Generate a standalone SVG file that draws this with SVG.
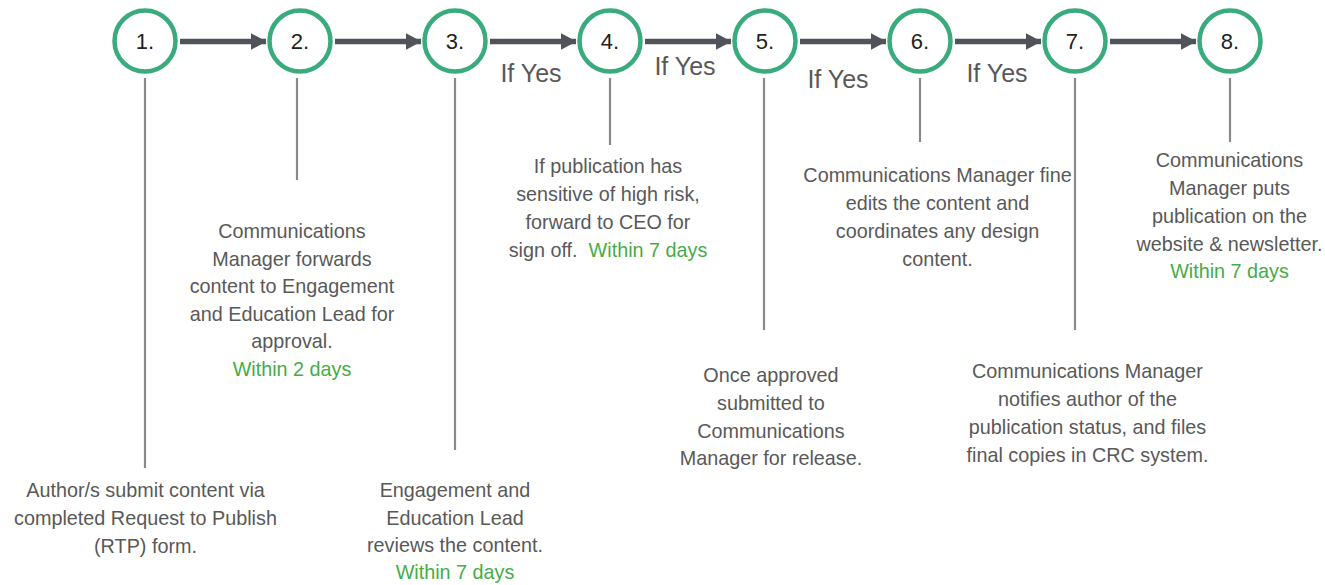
<svg xmlns="http://www.w3.org/2000/svg" width="1325" height="585" viewBox="0 0 1325 585">
<style>
.node circle{fill:#fff;stroke:#3aab7d;stroke-width:4.5}
.num{font-family:"Liberation Sans",Arial,sans-serif;font-size:22px;fill:#222;text-anchor:middle}
.desc{font-family:"Liberation Sans",Arial,sans-serif;font-size:19.8px;fill:#595959;text-anchor:middle;white-space:pre}
.g{fill:#45ad45}
.lbl{font-family:"Liberation Sans",Arial,sans-serif;font-size:25px;fill:#595959;text-anchor:middle}
.arrow{stroke:#50545a;stroke-width:5.5;fill:none;marker-end:url(#ah)}
.stem{stroke:#8a8a8a;stroke-width:2.2;fill:none}
</style>
<defs>
<marker id="ah" markerWidth="16" markerHeight="17" refX="15.5" refY="8.5" orient="auto" markerUnits="userSpaceOnUse">
<path d="M0,0 L16,8.5 L0,17 Z" fill="#50545a"/>
</marker>
</defs>
<rect width="1325" height="585" fill="#fff"/>
<g id="connectors">
<line class="arrow" x1="180" y1="41.5" x2="266" y2="41.5"/>
<line class="arrow" x1="335" y1="41.5" x2="421" y2="41.5"/>
<line class="arrow" x1="490" y1="41.5" x2="576" y2="41.5"/>
<line class="arrow" x1="645" y1="41.5" x2="731" y2="41.5"/>
<line class="arrow" x1="800" y1="41.5" x2="886" y2="41.5"/>
<line class="arrow" x1="955" y1="41.5" x2="1041" y2="41.5"/>
<line class="arrow" x1="1110" y1="41.5" x2="1196" y2="41.5"/>
<line class="stem" x1="145" y1="78" x2="145" y2="468"/>
<line class="stem" x1="297" y1="78" x2="297" y2="180"/>
<line class="stem" x1="455" y1="78" x2="455" y2="450"/>
<line class="stem" x1="610" y1="78" x2="610" y2="145"/>
<line class="stem" x1="764" y1="78" x2="764" y2="330"/>
<line class="stem" x1="920" y1="78" x2="920" y2="142"/>
<line class="stem" x1="1075" y1="78" x2="1075" y2="330"/>
<line class="stem" x1="1230" y1="78" x2="1230" y2="142"/>
<text class="lbl" x="531" y="82">If Yes</text>
<text class="lbl" x="685" y="75">If Yes</text>
<text class="lbl" x="838" y="88">If Yes</text>
<text class="lbl" x="997" y="82">If Yes</text>
</g>
<g id="node1" class="node">
<circle cx="145" cy="41" r="30.5"/>
<text class="num" x="145" y="49">1.</text>
<text class="desc"><tspan x="145.5" y="497">Author/s submit content via</tspan><tspan x="145.5" y="525">completed Request to Publish</tspan><tspan x="145.5" y="553">(RTP) form.</tspan></text>
</g>
<g id="node2" class="node">
<circle cx="300" cy="41" r="30.5"/>
<text class="num" x="300" y="49">2.</text>
<text class="desc"><tspan x="292" y="238">Communications</tspan><tspan x="292" y="265.5">Manager forwards</tspan><tspan x="292" y="293">content to Engagement</tspan><tspan x="292" y="320.5">and Education Lead for</tspan><tspan x="292" y="348">approval.</tspan><tspan class="g" x="292" y="376">Within 2 days</tspan></text>
</g>
<g id="node3" class="node">
<circle cx="455" cy="41" r="30.5"/>
<text class="num" x="455" y="49">3.</text>
<text class="desc"><tspan x="455" y="497">Engagement and</tspan><tspan x="455" y="524.5">Education Lead</tspan><tspan x="455" y="552">reviews the content.</tspan><tspan class="g" x="455" y="579">Within 7 days</tspan></text>
</g>
<g id="node4" class="node">
<circle cx="610" cy="41" r="30.5"/>
<text class="num" x="610" y="49">4.</text>
<text class="desc"><tspan x="608" y="173">If publication has</tspan><tspan x="608" y="201">sensitive of high risk,</tspan><tspan x="608" y="229">forward to CEO for</tspan><tspan x="608" y="256.5">sign off.  <tspan class="g">Within 7 days</tspan></tspan></text>
</g>
<g id="node5" class="node">
<circle cx="765" cy="41" r="30.5"/>
<text class="num" x="765" y="49">5.</text>
<text class="desc"><tspan x="771" y="382">Once approved</tspan><tspan x="771" y="410">submitted to</tspan><tspan x="771" y="437.5">Communications</tspan><tspan x="771" y="465">Manager for release.</tspan></text>
</g>
<g id="node6" class="node">
<circle cx="920" cy="41" r="30.5"/>
<text class="num" x="920" y="49">6.</text>
<text class="desc"><tspan x="937.5" y="182">Communications Manager fine</tspan><tspan x="937.5" y="210">edits the content and</tspan><tspan x="937.5" y="238">coordinates any design</tspan><tspan x="937.5" y="266">content.</tspan></text>
</g>
<g id="node7" class="node">
<circle cx="1075" cy="41" r="30.5"/>
<text class="num" x="1075" y="49">7.</text>
<text class="desc"><tspan x="1087.5" y="378">Communications Manager</tspan><tspan x="1087.5" y="406">notifies author of the</tspan><tspan x="1087.5" y="434">publication status, and files</tspan><tspan x="1087.5" y="462">final copies in CRC system.</tspan></text>
</g>
<g id="node8" class="node">
<circle cx="1230" cy="41" r="30.5"/>
<text class="num" x="1230" y="49">8.</text>
<text class="desc"><tspan x="1229.5" y="167">Communications</tspan><tspan x="1229.5" y="195">Manager puts</tspan><tspan x="1229.5" y="223">publication on the</tspan><tspan x="1229.5" y="250.5">website &amp; newsletter.</tspan><tspan class="g" x="1229.5" y="278">Within 7 days</tspan></text>
</g>
</svg>
